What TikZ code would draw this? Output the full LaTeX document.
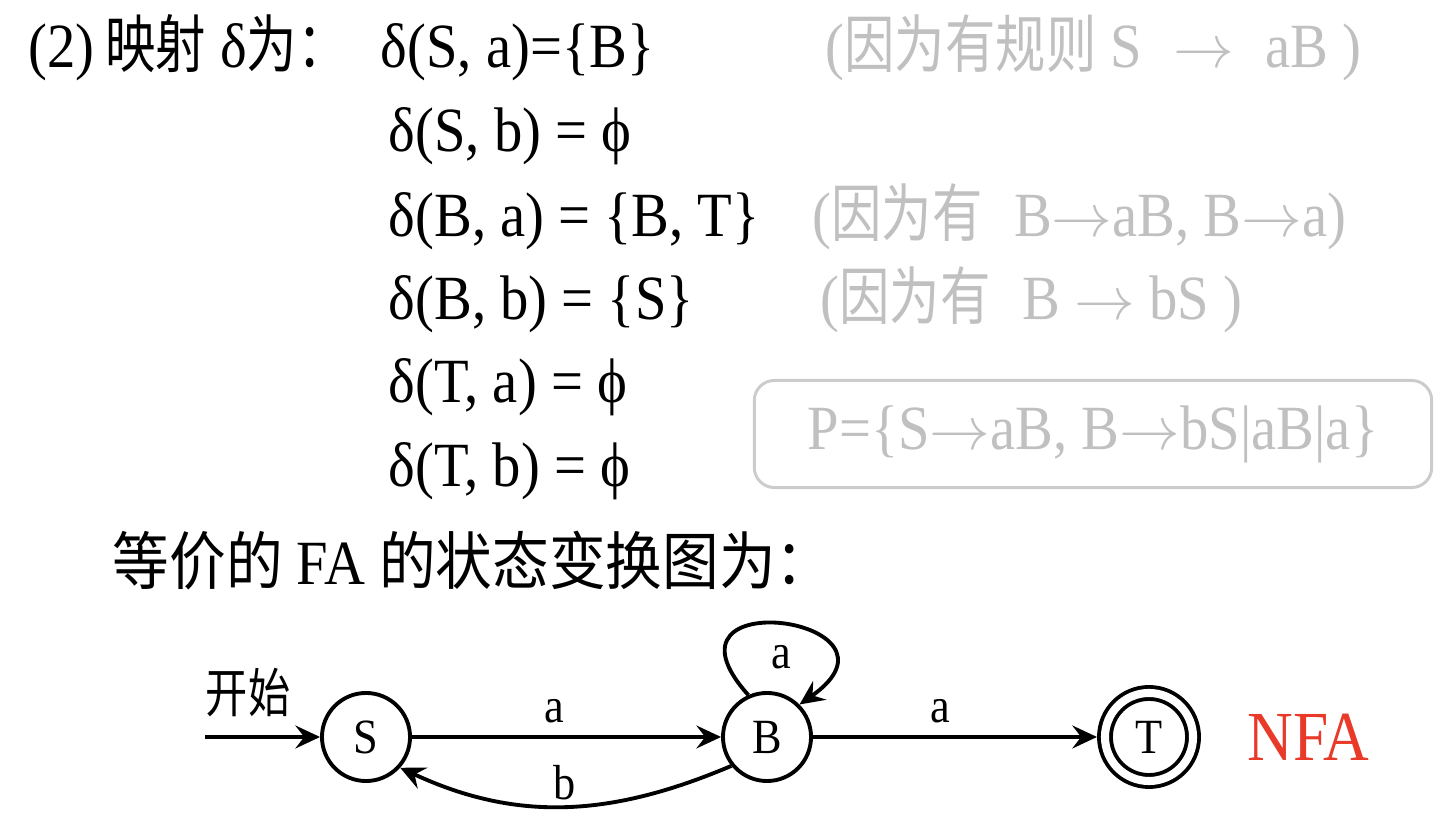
\documentclass[tikz,border=0pt]{standalone}
\usepackage{fontspec}
\setmainfont[FakeStretch=0.9]{Liberation Serif}
\newfontfamily\cjk[FakeStretch=0.8]{Noto Sans CJK SC}
\newfontfamily\cjkw[FakeStretch=0.9]{Noto Sans CJK SC}
\usetikzlibrary{arrows.meta}
\definecolor{hintgray}{RGB}{192,192,192}
\definecolor{boxgray}{RGB}{204,204,204}
\definecolor{nfared}{RGB}{233,57,41}
\newcommand{\pto}{$\rightarrow$}

\begin{document}
\begin{tikzpicture}[x=0.01cm, y=0.01cm,
	txt/.style={anchor=base west, inner sep=0pt, font=\fontsize{17.9}{20}\selectfont},
	hint/.style={txt, text=hintgray},
	state/.style={circle, draw, line width=1.1pt, minimum size=0.88cm, inner sep=0pt,
		font=\fontsize{14}{16}\selectfont},
	accept/.style={state, double, double distance=2.3pt, outer sep=0.08cm},
	edgelbl/.style={font=\fontsize{14}{16}\selectfont},
	arr/.style={line width=1.1pt, -{Stealth[length=7pt, width=6.5pt, inset=2.5pt]}}]
	\useasboundingbox (0,0) rectangle (1452,822);
	% abbildung delta
	\node[txt] (head) at (28,754) {(2)\,{\cjk 映射} δ{\cjk 为：}};
	\node[txt] (d1) at (380,754) {δ(S, a)=\{B\}};
	\node[txt] (d2) at (388,670) {δ(S, b) = ϕ};
	\node[txt] (d3) at (388,585) {δ(B, a) = \{B, T\}};
	\node[txt] (d4) at (388,502) {δ(B, b) = \{S\}};
	\node[txt] (d5) at (388,419) {δ(T, a) = ϕ};
	\node[txt] (d6) at (388,335) {δ(T, b) = ϕ};
	% begruendungen in grau
	\node[hint] (h1) at (825,754) {({\cjk 因为有规则} S\enspace\pto\enspace aB )};
	\node[hint] (h3) at (812,585) {({\cjk 因为有}\enspace B\pto aB, B\pto a)};
	\node[hint] (h4) at (820,502) {({\cjk 因为有}\enspace B \pto\ bS )};
	\node[draw=boxgray, line width=0.85pt, rounded corners=0.2cm, minimum width=6.77cm,
		minimum height=1.07cm, text=hintgray, font=\fontsize{17.9}{20}\selectfont]
		(pbox) at (1093,388) {P=\{S\pto aB, B\pto bS|aB|a\}};
	% ueberschrift zum graphen
	\node[txt] (fa) at (112,237) {{\cjkw 等价的} FA {\cjkw 的状态变换图为：}};
	% zustaende
	\node[state] (S) at (366,85) {S};
	\node[state] (B) at (767,85) {B};
	\node[accept] (T) at (1149,85) {T};
	\coordinate (start) at (205,85);
	\node[font=\cjk\fontsize{15}{17}\selectfont] (kaishi) at (248,129) {开始};
	\node[anchor=west, text=nfared, font=\fontsize{20}{22}\selectfont] (nfa) at (1235,85) {NFA};
	% uebergaenge
	\draw[arr] (start) -- (S);
	\draw[arr] (S) -- node[edgelbl, above, pos=0.46] (la1) {a} (B);
	\draw[arr] (B) -- node[edgelbl, above, pos=0.45] (la2) {a} (T);
	\draw[arr] (B.219) to[out=203, in=-25] node[edgelbl, above=-2pt] (lb) {b} (S.318);
	\draw[arr] (B.114) to[out=132, in=35, out distance=1.55cm, in distance=1.5cm]
		node[edgelbl, below=2pt] (lloop) {a} (B.45);
\end{tikzpicture}
\end{document}
